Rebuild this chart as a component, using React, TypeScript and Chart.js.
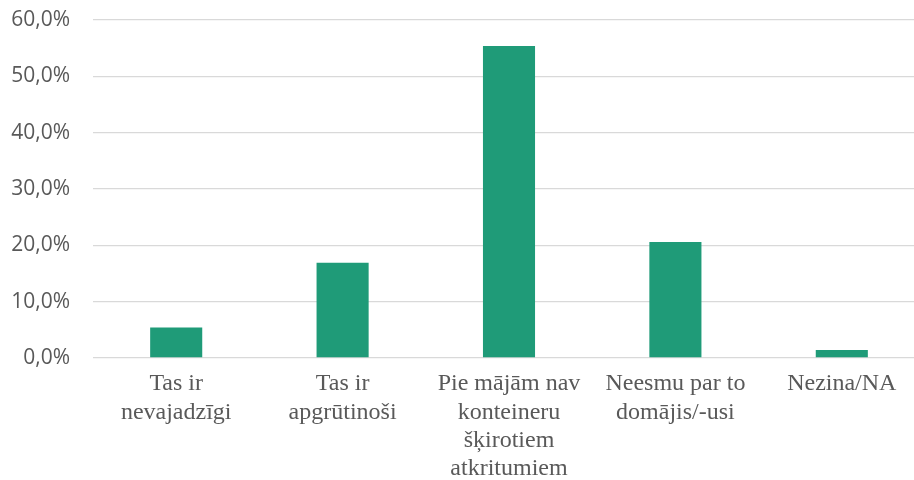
import React, { useEffect, useRef } from "react";
import { Chart, registerables } from "chart.js";

Chart.register(...registerables);

const categories: string[][] = [
  ["Tas ir", "nevajadzīgi"],
  ["Tas ir", "apgrūtinoši"],
  ["Pie mājām nav", "konteineru", "šķirotiem", "atkritumiem"],
  ["Neesmu par to", "domājis/-usi"],
  ["Nezina/NA"],
];
const values: number[] = [5.4, 16.9, 55.4, 20.6, 1.4];
const yTicks: number[] = [0, 10, 20, 30, 40, 50, 60];

export default function App() {
  const ref = useRef<HTMLCanvasElement | null>(null);
  useEffect(() => {
    document.body.style.margin = "0";
    const chart = new Chart(ref.current as HTMLCanvasElement, {
      type: "bar",
      data: {
        labels: categories,
        datasets: [
          {
            data: values,
            backgroundColor: "#1f9b78",
            borderWidth: 0,
            barPercentage: 0.313,
            categoryPercentage: 1,
          },
        ],
      },
      options: {
        animation: false,
        responsive: false,
        maintainAspectRatio: false,
        layout: { padding: { top: 20, left: 0, right: 0, bottom: 0 } },
        plugins: { legend: { display: false }, tooltip: { enabled: false } },
        scales: {
          x: {
            grid: { display: false, drawTicks: false },
            border: { display: false },
            ticks: {
              color: "#595959",
              padding: 12,
              maxRotation: 0,
              autoSkip: false,
              font: { family: "'Liberation Serif', 'Times New Roman', serif", size: 24, lineHeight: 1.18 },
            },
            afterFit: (s: any) => {
              s.height = 122;
            },
          },
          y: {
            min: 0,
            max: 60,
            afterBuildTicks: (s: any) => {
              s.ticks = yTicks.map((v) => ({ value: v }));
            },
            grid: {
              color: "#d9d9d9",
              lineWidth: 1.3,
              drawTicks: true,
              tickLength: 20,
              tickColor: "rgba(0,0,0,0)",
            },
            border: { display: false },
            ticks: {
              color: "#595959",
              padding: 3,
              font: { family: "'Open Sans', sans-serif", size: 21 },
              callback: (v: any) => Number(v).toFixed(1).replace(".", ",") + "%",
            },
            afterFit: (s: any) => {
              s.width = 93;
            },
          },
        },
      },
    });
    return () => chart.destroy();
  }, []);
  return (
    <div style={{ width: 914, height: 480, overflow: "hidden", position: "relative", background: "#fff" }}>
      <canvas ref={ref} width={925} height={480} style={{ display: "block" }} />
    </div>
  );
}
